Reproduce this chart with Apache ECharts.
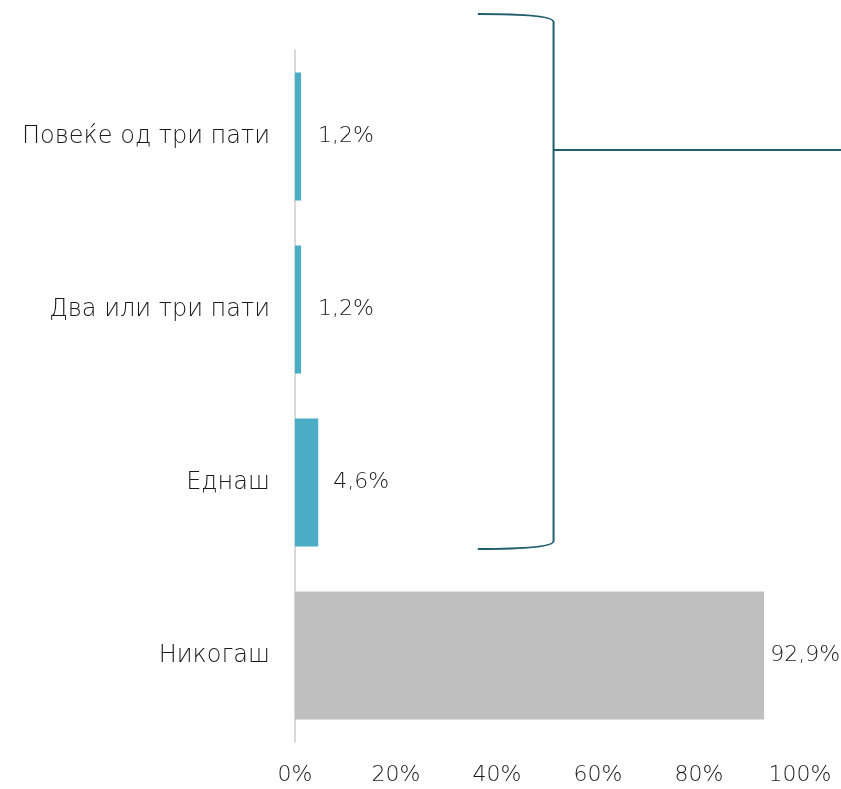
<!DOCTYPE html>
<html>
<head>
<meta charset="utf-8">
<script src="https://cdn.jsdelivr.net/npm/echarts@6/dist/echarts.min.js"></script>
<style>
  html, body { margin: 0; padding: 0; background: #fff; }
  #chart { width: 841px; height: 789px; }
</style>
</head>
<body>
<div id="chart"></div>
<script>
// categories bottom -> top
var categories = ['Никогаш', 'Еднаш', 'Два или три пати', 'Повеќе од три пати'];
var values = [92.9, 4.6, 1.2, 1.2];
var barColors = ['#BFBFBF', '#4BACC6', '#4BACC6', '#4BACC6'];
var labelGap = [6, 15, 17, 17];

var font = '"DejaVu Sans", sans-serif';
var chart = echarts.init(document.getElementById('chart'));

var option = {
    animation: false,
    grid: { left: 295, right: 41, top: 50, bottom: 47, containLabel: false },
    xAxis: {
        type: 'value',
        min: 0,
        max: 100,
        interval: 20,
        axisLine: { show: false },
        axisTick: { show: false },
        splitLine: { show: false },
        axisLabel: {
            margin: 22,
            fontSize: 22,
            fontWeight: 200,
            fontFamily: font,
            color: '#1a1a1a',
            formatter: function (v) { return v + '%'; }
        }
    },
    yAxis: {
        type: 'category',
        data: categories,
        axisLine: { show: true, lineStyle: { color: '#D9D9D9', width: 2 } },
        axisTick: { show: false },
        axisLabel: {
            margin: 25,
            fontSize: 24,
            fontWeight: 200,
            fontFamily: font,
            color: '#1a1a1a'
        }
    },
    series: [{
        type: 'bar',
        barCategoryGap: '26%',
        data: values.map(function (v, i) {
            return {
                value: v,
                itemStyle: { color: barColors[i] },
                label: { distance: labelGap[i] }
            };
        }),
        label: {
            show: true,
            position: 'right',
            fontSize: 22,
            fontWeight: 200,
            fontFamily: font,
            color: '#1a1a1a',
            formatter: function (p) { return p.value.toFixed(1).replace('.', ',') + '%'; }
        }
    }]
};
chart.setOption(option);

// bracket around the three small categories
var xl = chart.convertToPixel({ xAxisIndex: 0 }, 36.2);
var xr = chart.convertToPixel({ xAxisIndex: 0 }, 51.2);
var yTop = 14;
var yBot = 549;
var yTip = 150;
var braceStyle = { fill: null, stroke: '#215E6E', lineWidth: 2 };
chart.setOption({
    graphic: [{
        type: 'bezierCurve',
        shape: {
            x1: xl, y1: yTop, x2: xr, y2: yTop + 8,
            cpx1: xl + 45, cpy1: yTop, cpx2: xr, cpy2: yTop + 2
        },
        style: braceStyle
    }, {
        type: 'line',
        shape: { x1: xr, y1: yTop + 8, x2: xr, y2: yBot - 8 },
        style: braceStyle
    }, {
        type: 'bezierCurve',
        shape: {
            x1: xr, y1: yBot - 8, x2: xl, y2: yBot,
            cpx1: xr, cpy1: yBot - 2, cpx2: xl + 45, cpy2: yBot
        },
        style: braceStyle
    }, {
        type: 'line',
        shape: { x1: xr, y1: yTip, x2: 841, y2: yTip },
        style: braceStyle
    }]
});
</script>
</body>
</html>
